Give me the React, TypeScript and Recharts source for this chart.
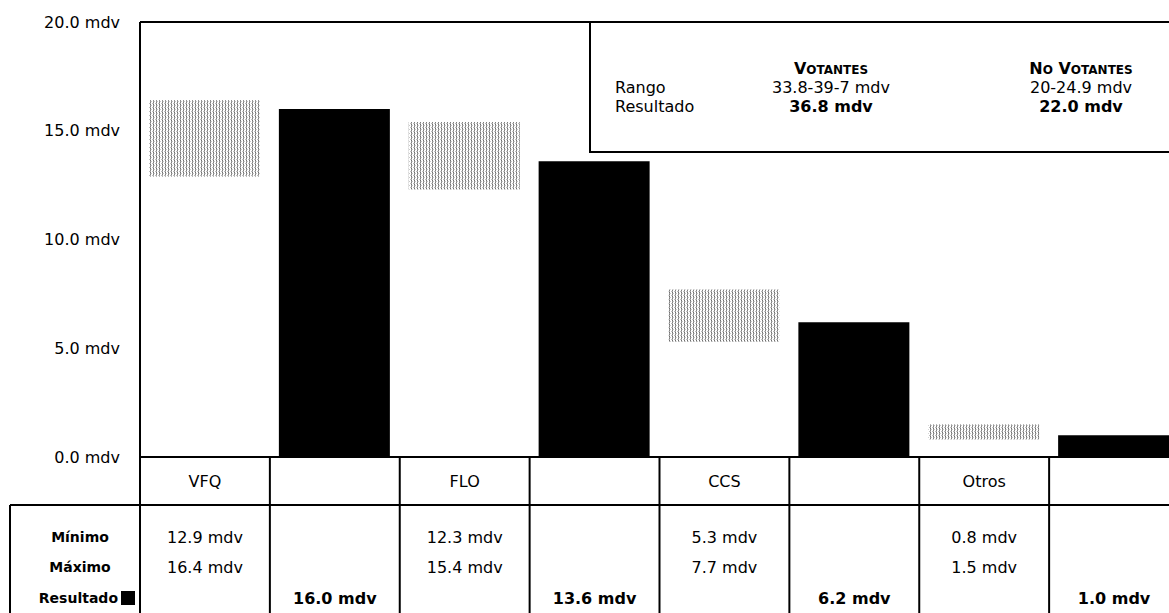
import React from 'react';
import { ComposedChart, Bar, XAxis, YAxis, ReferenceLine, Cell } from 'recharts';

const partidos = ['VFQ', 'FLO', 'CCS', 'Otros'];
const minimos = [12.9, 12.3, 5.3, 0.8];
const maximos = [16.4, 15.4, 7.7, 1.5];
const resultados = [16.0, 13.6, 6.2, 1.0];
const yTicks = [0, 5, 10, 15, 20];
const rowLabels = ['Mínimo', 'Máximo', 'Resultado'];
const legendRango = ['33.8-39-7 mdv', '20-24.9 mdv'];
const legendResultado = ['36.8 mdv', '22.0 mdv'];

type Row = { slot: string; label: string; kind: 'range' | 'result'; range: number[]; min?: number; max?: number; res?: number };

const data: Row[] = partidos.flatMap((p, i) => [
  { slot: p, label: p, kind: 'range' as const, range: [minimos[i], maximos[i]], min: minimos[i], max: maximos[i] },
  { slot: p + '-res', label: '', kind: 'result' as const, range: [0, resultados[i]], res: resultados[i] },
]);

const FONT = '"DejaVu Sans", sans-serif';
const CHART_W = 1179;
const CHART_H = 613;
const Y_AXIS_W = 140;
const COL_W = (CHART_W - Y_AXIS_W) / data.length;
const fmt = (v: number) => `${v.toFixed(1)} mdv`;

const TableTick = (props: any) => {
  const { x, y, index } = props;
  const d = data[index];
  const half = COL_W / 2;
  const txt = { fontFamily: FONT, fontSize: 16, fill: '#000', textAnchor: 'middle' as const, dominantBaseline: 'central' as const };
  return (
    <g>
      <line x1={x - half} x2={x - half} y1={y} y2={CHART_H} stroke="#000" strokeWidth={2} />
      {index === data.length - 1 && (
        <line x1={x + half} x2={x + half} y1={y} y2={CHART_H} stroke="#000" strokeWidth={2} />
      )}
      {index === 0 && (
        <g>
          <line x1={10} x2={CHART_W} y1={y + 48} y2={y + 48} stroke="#000" strokeWidth={2} />
          <line x1={10} x2={10} y1={y + 48} y2={CHART_H} stroke="#000" strokeWidth={2} />
          <text x={80} y={y + 80} {...txt} fontSize={14} fontWeight="bold">{rowLabels[0]}</text>
          <text x={80} y={y + 110} {...txt} fontSize={14} fontWeight="bold">{rowLabels[1]}</text>
          <text x={118} y={y + 141} {...txt} textAnchor="end" fontSize={14} fontWeight="bold">{rowLabels[2]}</text>
          <rect x={121} y={y + 134} width={14} height={14} fill="#000" />
        </g>
      )}
      {d.kind === 'range' ? (
        <g>
          <text x={x} y={y + 24} {...txt}>{d.label}</text>
          <text x={x} y={y + 80} {...txt}>{fmt(d.min as number)}</text>
          <text x={x} y={y + 110} {...txt}>{fmt(d.max as number)}</text>
        </g>
      ) : (
        <text x={x} y={y + 141} {...txt} fontWeight="bold">{fmt(d.res as number)}</text>
      )}
    </g>
  );
};

const Small = ({ children }: { children: React.ReactNode }) => (
  <span style={{ fontSize: 12 }}>{children}</span>
);

export default function App() {
  return (
    <div style={{ position: 'absolute', left: 0, top: 0, width: 1169, height: 613, overflow: 'hidden', background: '#fff' }}>
      <ComposedChart width={CHART_W} height={CHART_H} data={data} margin={{ top: 22, right: 0, bottom: 0, left: 0 }} barCategoryGap={0}>
        <defs>
          <pattern id="dither" width={3} height={4} patternUnits="userSpaceOnUse">
            <rect x={0} y={0} width={3} height={4} fill="#fff" />
            <rect x={0} y={0} width={1} height={1} fill="#6e6e6e" />
            <rect x={0} y={1} width={1} height={1} fill="#9a9a9a" />
            <rect x={0} y={2} width={1} height={1} fill="#808080" />
            <rect x={0} y={3} width={1} height={1} fill="#b0b0b0" />
            <rect x={1} y={1} width={1} height={1} fill="#c8c8c8" />
            <rect x={2} y={3} width={1} height={1} fill="#bdbdbd" />
          </pattern>
        </defs>
        <XAxis
          dataKey="slot"
          interval={0}
          height={CHART_H - 22 - 435}
          tickSize={0}
          tickMargin={0}
          axisLine={{ stroke: '#000', strokeWidth: 2 }}
          tickLine={false}
          tick={<TableTick />}
        />
        <YAxis
          domain={[0, 20]}
          ticks={yTicks}
          width={Y_AXIS_W}
          tickFormatter={fmt}
          tickSize={0}
          tickMargin={20}
          tickLine={false}
          axisLine={{ stroke: '#000', strokeWidth: 2 }}
          tick={{ fontFamily: FONT, fontSize: 16, fill: '#000' }}
          interval={0}
        />
        <ReferenceLine y={20} stroke="#000" strokeWidth={2} ifOverflow="extendDomain" />
        <Bar dataKey="range" barSize={111} isAnimationActive={false}>
          {data.map((d, i) => (
            <Cell key={i} fill={d.kind === 'range' ? 'url(#dither)' : '#000'} />
          ))}
        </Bar>
      </ComposedChart>
      <div
        style={{
          position: 'absolute', left: 589, top: 21, width: 620, height: 128,
          border: '2px solid #000', background: '#fff', fontFamily: FONT, fontSize: 16, color: '#000',
        }}
      >
        <div style={{ position: 'absolute', left: 24, top: 55 }}>Rango</div>
        <div style={{ position: 'absolute', left: 24, top: 74 }}>Resultado</div>
        <div style={{ position: 'absolute', left: 140, width: 200, textAlign: 'center', top: 36, fontWeight: 'bold' }}>
          V<Small>OTANTES</Small>
        </div>
        <div style={{ position: 'absolute', left: 140, width: 200, textAlign: 'center', top: 55 }}>{legendRango[0]}</div>
        <div style={{ position: 'absolute', left: 140, width: 200, textAlign: 'center', top: 74, fontWeight: 'bold' }}>{legendResultado[0]}</div>
        <div style={{ position: 'absolute', left: 390, width: 200, textAlign: 'center', top: 36, fontWeight: 'bold' }}>
          N<Small>O</Small> V<Small>OTANTES</Small>
        </div>
        <div style={{ position: 'absolute', left: 390, width: 200, textAlign: 'center', top: 55 }}>{legendRango[1]}</div>
        <div style={{ position: 'absolute', left: 390, width: 200, textAlign: 'center', top: 74, fontWeight: 'bold' }}>{legendResultado[1]}</div>
      </div>
    </div>
  );
}
